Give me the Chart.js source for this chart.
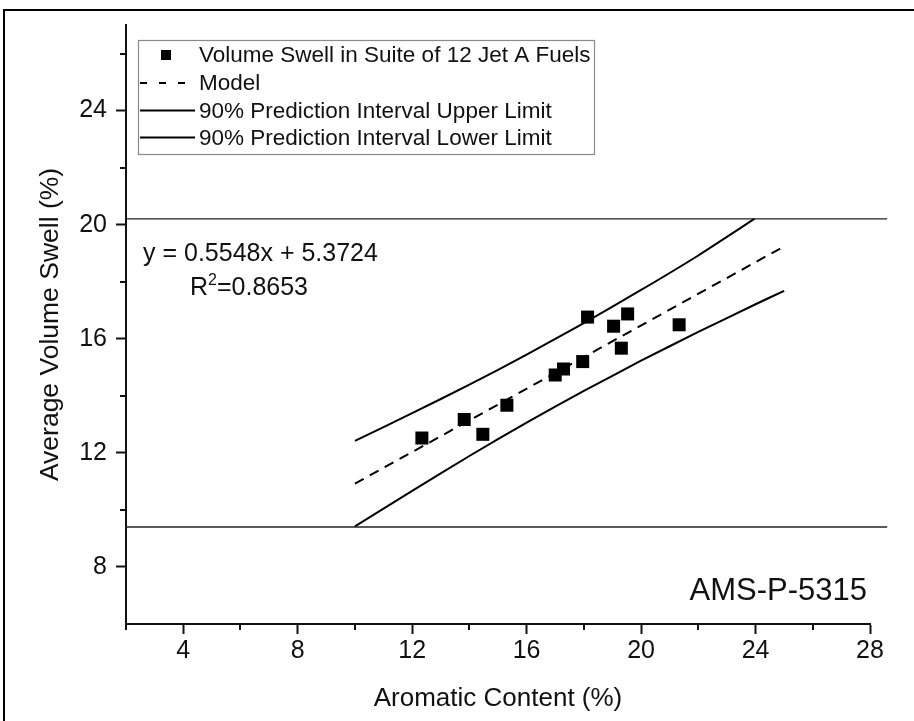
<!DOCTYPE html>
<html>
<head>
<meta charset="utf-8">
<script src="https://cdn.jsdelivr.net/npm/chart.js@4.4.1/dist/chart.umd.min.js"></script>
<style>
  html, body { margin: 0; padding: 0; background: #ffffff; }
  #wrap { width: 914px; height: 721px; position: relative; }
</style>
</head>
<body>
<div id="wrap"><canvas id="c" width="914" height="721"></canvas></div>
<script>
// ---- data ----
const fuelAromatic = [12.34, 13.82, 14.47, 15.31, 17.00, 17.29, 17.96, 18.13, 19.04, 19.53, 19.31, 21.33];
const fuelSwell    = [12.52, 13.17, 12.65, 13.67, 14.73, 14.94, 15.20, 16.76, 16.44, 16.87, 15.67, 16.49];
const modelX = [10, 25];
const modelY = [10.92, 19.24];
const upperX = [10, 12, 14, 16, 18, 20, 22, 23.96];
const upperY = [12.42, 13.39, 14.39, 15.44, 16.55, 17.71, 18.92, 20.2];
const lowerX = [10, 12, 14, 16, 18, 20, 22, 24, 25];
const lowerY = [9.42, 10.67, 11.89, 13.06, 14.17, 15.23, 16.24, 17.21, 17.68];
const limitX = [2, 28.6];
const upperLimitY = [20.2, 20.2];
const lowerLimitY = [9.4, 9.4];
const xMajorTicks = [4, 8, 12, 16, 20, 24, 28];
const yMajorTicks = [8, 12, 16, 20, 24];
const xMinorTicks = [2, 6, 10, 14, 18, 22, 26];
const yMinorTicks = [10, 14, 18, 22, 26];
const legendLabels = [
  'Volume Swell in Suite of 12 Jet A Fuels',
  'Model',
  '90% Prediction Interval Upper Limit',
  '90% Prediction Interval Lower Limit'
];
const equationText = 'y = 0.5548x + 5.3724';
const r2Text = '=0.8653';
const specText = 'AMS-P-5315';
const xTitle = 'Aromatic Content (%)';
const yTitle = 'Average Volume Swell (%)';

const pts = (xs, ys) => xs.map((x, i) => ({ x: x, y: ys[i] }));

const FONT = "'Liberation Sans', Arial, sans-serif";
const INK = '#111111';
Chart.defaults.font.family = FONT;
Chart.defaults.color = INK;

const minorTicksPlugin = {
  id: 'minorTicks',
  afterDraw(chart) {
    const ctx = chart.ctx, xs = chart.scales.x, ys = chart.scales.y;
    ctx.save();
    ctx.strokeStyle = INK;
    ctx.lineWidth = 2;
    xMinorTicks.forEach(v => {
      const px = Math.round(xs.getPixelForValue(v));
      ctx.beginPath(); ctx.moveTo(px, ys.bottom); ctx.lineTo(px, ys.bottom + 6); ctx.stroke();
    });
    yMinorTicks.forEach(v => {
      const py = Math.round(ys.getPixelForValue(v));
      ctx.beginPath(); ctx.moveTo(xs.left - 6, py); ctx.lineTo(xs.left, py); ctx.stroke();
    });
    // small overhang of the axes past their crossing
    ctx.beginPath(); ctx.moveTo(xs.left, ys.bottom); ctx.lineTo(xs.left, ys.bottom + 4); ctx.stroke();
    ctx.restore();
  }
};

const framePlugin = {
  id: 'frame',
  afterDraw(chart) {
    const ctx = chart.ctx;
    ctx.save();
    ctx.strokeStyle = '#000';
    ctx.lineWidth = 2;
    ctx.strokeRect(4, 10, 930, 740);
    ctx.restore();
  }
};

const legendPlugin = {
  id: 'boxLegend',
  afterDraw(chart) {
    const ctx = chart.ctx;
    ctx.save();
    const bx = 138.5, by = 40.5, bw = 456, bh = 114;
    ctx.fillStyle = '#fff';
    ctx.fillRect(bx, by, bw, bh);
    ctx.strokeStyle = '#8a8a8a';
    ctx.lineWidth = 1.2;
    ctx.strokeRect(bx, by, bw, bh);
    const rows = [55, 83, 110.5, 137.5];
    const ds = chart.data.datasets;
    ctx.font = '22.5px ' + FONT;
    ctx.fillStyle = INK;
    ctx.textBaseline = 'middle';
    legendLabels.forEach((t, i) => {
      const y = rows[i];
      const d = ds[i];
      ctx.save();
      if (i === 0) {
        ctx.fillStyle = '#000';
        ctx.fillRect(161, y - 5, 10, 10);
      } else {
        ctx.strokeStyle = '#000';
        ctx.lineWidth = 2;
        ctx.setLineDash(d.borderDash && d.borderDash.length ? [7, 12] : []);
        ctx.beginPath(); ctx.moveTo(140, y); ctx.lineTo(195, y); ctx.stroke();
      }
      ctx.restore();
      ctx.fillText(t, 199, y + 1);
    });
    ctx.restore();
  }
};

const annotationPlugin = {
  id: 'notes',
  afterDraw(chart) {
    const ctx = chart.ctx;
    ctx.save();
    ctx.fillStyle = INK;
    ctx.textBaseline = 'alphabetic';
    ctx.font = '25px ' + FONT;
    ctx.fillText(equationText, 143, 261);
    ctx.fillText('R', 190, 295);
    const rw = ctx.measureText('R').width;
    ctx.font = '16px ' + FONT;
    ctx.fillText('2', 190 + rw, 285);
    const sw = ctx.measureText('2').width;
    ctx.font = '25px ' + FONT;
    ctx.fillText(r2Text, 190 + rw + sw, 295);
    ctx.font = '31px ' + FONT;
    ctx.textAlign = 'right';
    ctx.fillText(specText, 867, 600);
    ctx.restore();
  }
};

new Chart(document.getElementById('c'), {
  type: 'scatter',
  data: {
    datasets: [
      {
        label: legendLabels[0],
        data: pts(fuelAromatic, fuelSwell),
        pointStyle: 'rect',
        pointRadius: 9.2,
        pointHoverRadius: 9.2,
        backgroundColor: '#000',
        borderWidth: 0,
        order: 0
      },
      {
        label: legendLabels[1],
        data: pts(modelX, modelY),
        showLine: true,
        borderColor: '#000',
        borderWidth: 2,
        borderDash: [10, 7],
        pointRadius: 0,
        order: 1
      },
      {
        label: legendLabels[2],
        data: pts(upperX, upperY),
        showLine: true,
        borderColor: '#000',
        borderWidth: 2,
        pointRadius: 0,
        tension: 0.2,
        order: 1
      },
      {
        label: legendLabels[3],
        data: pts(lowerX, lowerY),
        showLine: true,
        borderColor: '#000',
        borderWidth: 2,
        pointRadius: 0,
        tension: 0.2,
        order: 1
      },
      {
        label: 'upper bound',
        data: pts(limitX, upperLimitY),
        showLine: true,
        borderColor: '#222',
        borderWidth: 1.3,
        pointRadius: 0,
        clip: false,
        order: 2
      },
      {
        label: 'lower bound',
        data: pts(limitX, lowerLimitY),
        showLine: true,
        borderColor: '#222',
        borderWidth: 1.3,
        pointRadius: 0,
        clip: false,
        order: 2
      }
    ]
  },
  options: {
    responsive: false,
    animation: false,
    events: [],
    layout: { padding: { left: 0, top: 25, right: 44, bottom: 0 } },
    plugins: { legend: { display: false }, tooltip: { enabled: false }, title: { display: false } },
    scales: {
      x: {
        type: 'linear',
        min: 2,
        max: 28,
        afterBuildTicks: s => { s.ticks = xMajorTicks.map(v => ({ value: v })); },
        afterFit: s => { s.height = 97; },
        ticks: { font: { size: 25 }, color: INK, padding: 2, maxRotation: 0, autoSkip: false },
        grid: { display: true, drawOnChartArea: false, drawTicks: true, tickLength: 10, tickWidth: 2, tickColor: INK },
        border: { display: true, color: INK, width: 2 },
        title: { display: true, text: xTitle, font: { size: 26 }, color: INK, padding: { top: 0, bottom: 7 } }
      },
      y: {
        type: 'linear',
        min: 6,
        max: 27,
        afterBuildTicks: s => { s.ticks = yMajorTicks.map(v => ({ value: v })); },
        afterFit: s => { s.width = 126; },
        ticks: { font: { size: 25 }, color: INK, padding: 9, autoSkip: false },
        grid: { display: true, drawOnChartArea: false, drawTicks: true, tickLength: 10, tickWidth: 2, tickColor: INK },
        border: { display: true, color: INK, width: 2 },
        title: { display: true, text: yTitle, font: { size: 26.5 }, color: INK, padding: { top: 35, bottom: 0 } }
      }
    }
  },
  plugins: [minorTicksPlugin, legendPlugin, annotationPlugin, framePlugin]
});
</script>
</body>
</html>
